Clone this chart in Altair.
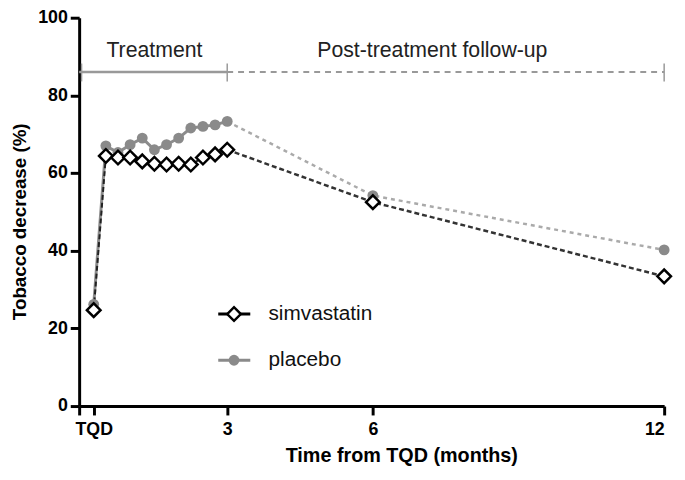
import altair as alt
import pandas as pd

# ---- data (x in weeks from start; TQD = week 1, 3 mo = 12, 6 mo = 24, 12 mo = 48)
weeks_treat = [1, 2, 3, 4, 5, 6, 7, 8, 9, 10, 11, 12]
simva_treat = [24.7, 64.4, 64.0, 64.0, 63.0, 62.4, 62.2, 62.4, 62.2, 64.0, 64.8, 66.0]
placebo_treat = [26.2, 67.0, 65.3, 67.3, 69.0, 66.0, 67.3, 69.0, 71.6, 72.0, 72.4, 73.3]
weeks_post = [12, 24, 48]
simva_post = [66.0, 52.5, 33.4]
placebo_post = [73.3, 54.2, 40.2]

tick_weeks = [-0.2, 1, 12, 24, 48]
tick_labels = ["", "TQD", "3", "6", "12"]
series = ["simvastatin", "placebo"]
phase_labels = ["Treatment", "Post-treatment follow-up"]

FONT = "Liberation Sans"

treat = pd.DataFrame({
    "week": weeks_treat * 2,
    "value": simva_treat + placebo_treat,
    "series": [series[0]] * len(weeks_treat) + [series[1]] * len(weeks_treat),
})
post = pd.DataFrame({
    "week": weeks_post * 2,
    "value": simva_post + placebo_post,
    "series": [series[0]] * len(weeks_post) + [series[1]] * len(weeks_post),
})
points = pd.concat([treat, post[post.week > 12]], ignore_index=True)

xscale = alt.Scale(domain=[-0.2, 48], nice=False, zero=False)
yscale = alt.Scale(domain=[0, 100], nice=False)

label_expr = " : ".join(
    [f"datum.value == {w} ? '{l}'" for w, l in zip(tick_weeks, tick_labels)]
) + " : ''"

X = alt.X("week:Q", scale=xscale, title="Time from TQD (months)",
          axis=alt.Axis(values=tick_weeks, labelExpr=label_expr, grid=False,
                        domainColor="black", domainWidth=3, tickColor="black",
                        tickWidth=3, tickSize=9, labelFont=FONT, labelFontSize=18,
                        labelFontWeight="bold", labelColor="black", labelPadding=6,
                        titleFont=FONT, titleFontSize=20, titleFontWeight="bold",
                        titleColor="black", titleX=326, titleY=50,
                        titleBaseline="middle", titleAnchor="middle"))
Y = alt.Y("value:Q", scale=yscale, title="Tobacco decrease (%)",
          axis=alt.Axis(values=[0, 20, 40, 60, 80, 100], grid=False,
                        domainColor="black", domainWidth=3, tickColor="black",
                        tickWidth=3, tickSize=9, labelFont=FONT, labelFontSize=18,
                        labelFontWeight="bold", labelColor="black", labelPadding=3,
                        titleFont=FONT, titleFontSize=19, titleFontWeight="bold",
                        titleColor="black", titleX=-50, titleY=206,
                        titleAnchor="middle"))

base_t = alt.Chart(treat)
base_p = alt.Chart(post)

plac_treat_line = base_t.transform_filter(alt.datum.series == "placebo").mark_line(
    color="#8c8c8c", strokeWidth=3).encode(x=X, y=Y)
sim_treat_line = base_t.transform_filter(alt.datum.series == "simvastatin").mark_line(
    color="#222222", strokeWidth=2, strokeDash=[5, 3]).encode(x=X, y=Y)
plac_post_line = base_p.transform_filter(alt.datum.series == "placebo").mark_line(
    color="#aaaaaa", strokeWidth=2.5, strokeDash=[4, 4]).encode(x=X, y=Y)
sim_post_line = base_p.transform_filter(alt.datum.series == "simvastatin").mark_line(
    color="#333333", strokeWidth=2.5, strokeDash=[5, 3]).encode(x=X, y=Y)

plac_pts = alt.Chart(points).transform_filter(alt.datum.series == "placebo").mark_point(
    shape="circle", filled=True, color="#8a8a8a", size=120, opacity=1).encode(x=X, y=Y)
sim_pts = alt.Chart(points).transform_filter(alt.datum.series == "simvastatin").mark_point(
    shape="diamond", filled=True, fill="white", stroke="black", strokeWidth=2.5,
    size=190, opacity=1).encode(x=X, y=Y)

# ---- phase annotation at top
phase_y = 86.0
seg = pd.DataFrame({"x0": [-0.2, 12], "x1": [12, 48], "phase": phase_labels})
seg_solid = alt.Chart(seg.iloc[[0]]).mark_rule(color="#999999", strokeWidth=2.5).encode(
    x=alt.X("x0:Q", scale=xscale), x2="x1:Q", y=alt.datum(phase_y))
seg_dash = alt.Chart(seg.iloc[[1]]).mark_rule(color="#999999", strokeWidth=2,
                                              strokeDash=[6, 5]).encode(
    x=alt.X("x0:Q", scale=xscale), x2="x1:Q", y=alt.datum(phase_y))
ends = pd.DataFrame({"x": [0, 12, 48]})
end_ticks = alt.Chart(ends).mark_rule(color="#999999", strokeWidth=1.5).encode(
    x=alt.X("x:Q", scale=xscale), y=alt.datum(83.6), y2=alt.datum(88.2))
phase_text = alt.Chart(pd.DataFrame({"x": [6, 28.9], "t": phase_labels})).mark_text(
    font=FONT, fontSize=21.5, color="#222222", baseline="middle").encode(
    x=alt.X("x:Q", scale=xscale), y=alt.datum(91.5), text="t:N")

# ---- legend (placed in data space)
leg = pd.DataFrame({"series": series, "y": [23.7, 11.8]})
leg_x0, leg_x1, leg_xc, leg_xt = 11.26, 13.9, 12.56, 15.4
leg_lines = alt.Chart(leg).mark_rule(strokeWidth=3).encode(
    x=alt.datum(leg_x0), x2=alt.datum(leg_x1), y=alt.Y("y:Q", scale=yscale),
    color=alt.Color("series:N", scale=alt.Scale(domain=series, range=["black", "#8a8a8a"]),
                    legend=None))
leg_sim = alt.Chart(leg.iloc[[0]]).mark_point(
    shape="diamond", filled=True, fill="white", stroke="black", strokeWidth=2.5,
    size=190, opacity=1).encode(x=alt.datum(leg_xc), y=alt.Y("y:Q", scale=yscale))
leg_plac = alt.Chart(leg.iloc[[1]]).mark_point(
    shape="circle", filled=True, color="#8a8a8a", size=120, opacity=1).encode(
    x=alt.datum(leg_xc), y=alt.Y("y:Q", scale=yscale))
leg_text = alt.Chart(leg).mark_text(font=FONT, fontSize=21, color="#111111",
                                    align="left", baseline="middle").encode(
    x=alt.datum(leg_xt), y=alt.Y("y:Q", scale=yscale), text="series:N")

chart = alt.layer(
    seg_solid, seg_dash, end_ticks, phase_text,
    plac_treat_line, plac_post_line, sim_treat_line, sim_post_line,
    plac_pts, sim_pts,
    leg_lines, leg_sim, leg_plac, leg_text,
).properties(
    width=592, height=393,
    autosize=alt.AutoSizeParams(type="none"),
    padding={"left": 72, "top": 7, "right": 13, "bottom": 72},
    background="white",
).configure_view(stroke=None)

chart.save("out.html", embed_options={"renderer": "svg", "actions": False})
